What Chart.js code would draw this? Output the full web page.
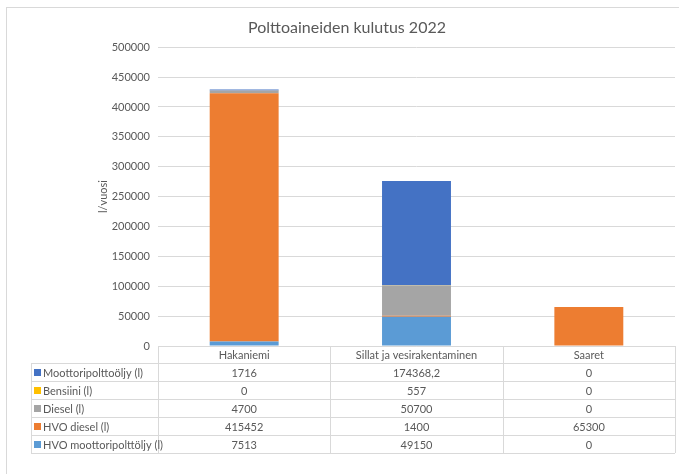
<!DOCTYPE html>
<html>
<head>
<meta charset="utf-8">
<script src="https://cdn.jsdelivr.net/npm/chart.js@4.4.0/dist/chart.umd.min.js"></script>
<style>
  body { margin: 0; background: #fff; }
</style>
</head>
<body>
<canvas id="chart" width="679" height="474"></canvas>
<script>
const categories = ['Hakaniemi', 'Sillat ja vesirakentaminen', 'Saaret'];
const moottoripolttooljy = [1716, 174368.2, 0];
const bensiini = [0, 557, 0];
const diesel = [4700, 50700, 0];
const hvoDiesel = [415452, 1400, 65300];
const hvoMoottoripolttoljy = [7513, 49150, 0];
const yMax = 500000;
const yStep = 50000;

const textColor = '#595959';
const lineColor = '#d9d9d9';
const fontFamily = 'Lato, "Open Sans", sans-serif';

// Excel-like frame around the chart
const framePlugin = {
  id: 'frame',
  beforeDraw(chart) {
    const ctx = chart.ctx;
    ctx.save();
    ctx.strokeStyle = lineColor;
    ctx.lineWidth = 1;
    ctx.strokeRect(6.5, 7.5, 700, 500);
    ctx.restore();
  }
};

// data table under the plot, like the Excel one
const tablePlugin = {
  id: 'dataTable',
  afterDraw(chart) {
    const ctx = chart.ctx;
    const xs = chart.scales.x;
    const area = chart.chartArea;
    const top = area.bottom;
    const headH = 17, rowH = 18, legendLeft = 31;
    const rows = chart.data.datasets.slice().reverse();
    const bottom = top + headH + rowH * rows.length;
    const n = categories.length;
    const edges = [];
    for (let i = 0; i <= n; i++) edges.push(area.left + (area.right - area.left) * i / n);

    ctx.save();
    ctx.strokeStyle = lineColor;
    ctx.lineWidth = 1;
    ctx.beginPath();
    ctx.moveTo(area.left, top + 0.5);
    ctx.lineTo(area.right, top + 0.5);
    for (let r = 0; r <= rows.length; r++) {
      const y = Math.round(top + headH + r * rowH) + 0.5;
      ctx.moveTo(legendLeft, y);
      ctx.lineTo(area.right, y);
    }
    ctx.moveTo(legendLeft + 0.5, top + headH);
    ctx.lineTo(legendLeft + 0.5, bottom);
    edges.forEach(e => {
      const x = Math.round(e) + 0.5;
      ctx.moveTo(x, top);
      ctx.lineTo(x, bottom);
    });
    ctx.stroke();

    ctx.font = '11px ' + fontFamily;
    ctx.fillStyle = textColor;
    ctx.textBaseline = 'middle';
    ctx.textAlign = 'center';
    categories.forEach((c, i) => {
      ctx.fillText(c, xs.getPixelForValue(i), top + headH / 2 + 1);
    });
    rows.forEach((ds, r) => {
      const y = top + headH + r * rowH + rowH / 2 + 1;
      ctx.fillStyle = ds.backgroundColor;
      ctx.fillRect(legendLeft + 3, y - 4, 7, 7);
      ctx.fillStyle = textColor;
      ctx.textAlign = 'left';
      ctx.fillText(ds.label, legendLeft + 12, y);
      ctx.textAlign = 'center';
      ds.data.forEach((v, i) => {
        ctx.fillText(String(v).replace('.', ','), xs.getPixelForValue(i), y);
      });
    });
    ctx.restore();
  }
};

new Chart(document.getElementById('chart'), {
  type: 'bar',
  data: {
    labels: categories,
    datasets: [
      { label: 'HVO moottoripolttöljy (l)', data: hvoMoottoripolttoljy, backgroundColor: '#5B9BD5' },
      { label: 'HVO diesel (l)', data: hvoDiesel, backgroundColor: '#ED7D31' },
      { label: 'Diesel (l)', data: diesel, backgroundColor: '#A5A5A5' },
      { label: 'Bensiini (l)', data: bensiini, backgroundColor: '#FFC000' },
      { label: 'Moottoripolttoöljy (l)', data: moottoripolttooljy, backgroundColor: '#4472C4' }
    ]
  },
  options: {
    responsive: false,
    animation: false,
    layout: { padding: { left: 19, right: 4, top: 0, bottom: 128 } },
    datasets: { bar: { categoryPercentage: 1, barPercentage: 0.4 } },
    plugins: {
      legend: { display: false },
      tooltip: { enabled: false },
      title: {
        display: true,
        text: 'Polttoaineiden kulutus 2022',
        color: textColor,
        font: { family: fontFamily, size: 16, weight: 'normal' },
        padding: { top: 18, bottom: 10 }
      }
    },
    scales: {
      x: { stacked: true, display: false },
      y: {
        stacked: true,
        min: 0,
        max: yMax,
        border: { display: false },
        grid: { color: lineColor, drawTicks: false },
        ticks: {
          stepSize: yStep,
          padding: 8,
          color: textColor,
          font: { family: fontFamily, size: 11 },
          callback: v => String(v)
        },
        title: {
          display: true,
          text: 'l/vuosi',
          color: textColor,
          font: { family: fontFamily, size: 11 },
          padding: { top: 78, bottom: 0 }
        },
        afterFit(scale) { scale.width = 139; }
      }
    }
  },
  plugins: [framePlugin, tablePlugin]
});
</script>
</body>
</html>
